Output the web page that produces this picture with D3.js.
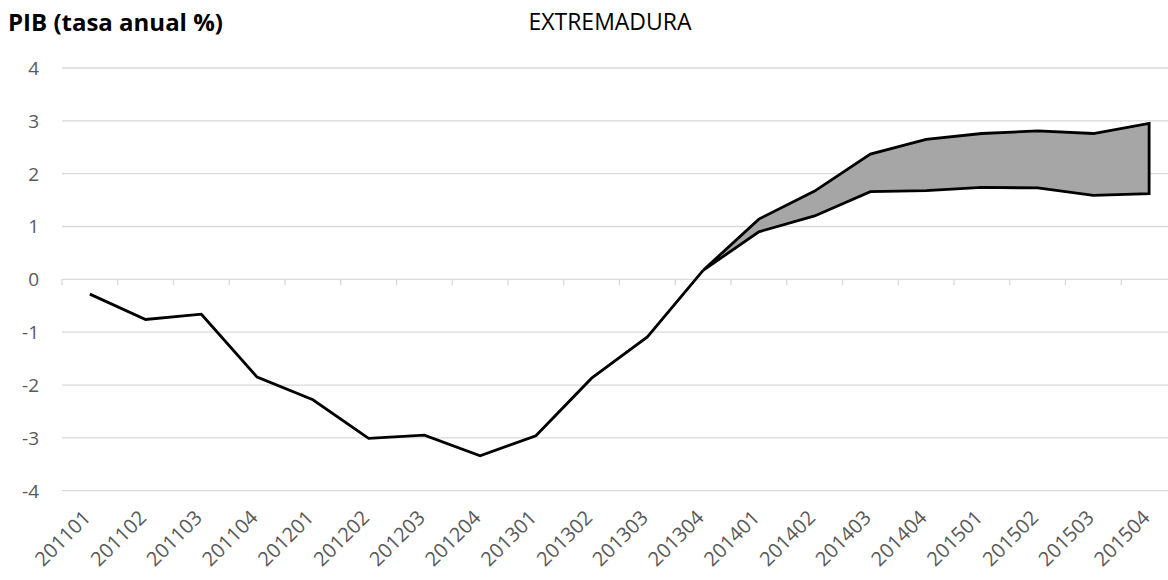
<!DOCTYPE html>
<html>
<head>
<meta charset="utf-8">
<script src="https://cdn.jsdelivr.net/npm/d3@7"></script>
<style>
  body { margin: 0; background: #fff; }
  svg { display: block; font-family: "Open Sans", Lato, sans-serif; }
</style>
</head>
<body>
<svg id="chart" width="1168" height="580"></svg>
<script>
// quarters on the x axis
const quarters = ["201101","201102","201103","201104","201201","201202","201203","201204",
                  "201301","201302","201303","201304","201401","201402","201403","201404",
                  "201501","201502","201503","201504"];
// observed series, 201101..201304
const pibHist = [-0.28, -0.76, -0.66, -1.85, -2.28, -3.01, -2.95, -3.34, -2.96, -1.87, -1.09, 0.17];
// forecast band, 201304..201504
const bandQuarters = quarters.slice(11);
const pibUpper = [0.17, 1.14, 1.67, 2.37, 2.65, 2.76, 2.81, 2.76, 2.95];
const pibLower = [0.17, 0.90, 1.20, 1.66, 1.68, 1.74, 1.73, 1.59, 1.62];
const yTicks = [-4, -3, -2, -1, 0, 1, 2, 3, 4];

const svg = d3.select("#chart");
const plot = { left: 62, right: 1177, top: 68, bottom: 490.7 };

const x = d3.scaleBand().domain(quarters).range([plot.left, plot.right]);
const cx = d => x(d) + x.bandwidth() / 2;
const y = d3.scaleLinear().domain([-4, 4]).range([plot.bottom, plot.top]);

// gridlines
svg.append("g")
    .selectAll("line")
    .data(yTicks)
    .enter().append("line")
    .attr("x1", plot.left).attr("x2", plot.right)
    .attr("y1", d => y(d)).attr("y2", d => y(d))
    .style("stroke", "#d9d9d9")
    .style("stroke-width", 1.3);

// y labels
svg.append("g")
    .selectAll("text")
    .data(yTicks)
    .enter().append("text")
    .attr("x", 39)
    .attr("y", d => y(d))
    .attr("dy", "0.36em")
    .attr("text-anchor", "end")
    .style("font-size", "19px")
    .style("fill", "#595959")
    .text(d => d);

// category tick marks on the zero line
svg.append("g")
    .selectAll("line")
    .data(quarters)
    .enter().append("line")
    .attr("x1", d => x(d)).attr("x2", d => x(d))
    .attr("y1", y(0)).attr("y2", y(0) + 6)
    .style("stroke", "#d9d9d9")
    .style("stroke-width", 1.3);

// x labels
svg.append("g")
    .selectAll("text")
    .data(quarters)
    .enter().append("text")
    .attr("transform", d => "translate(" + (cx(d) + 2) + ",519) rotate(-45)")
    .attr("text-anchor", "end")
    .style("font-size", "20px")
    .style("fill", "#595959")
    .text(d => d);

// forecast band
const band = bandQuarters.map((q, i) => ({ q: q, lo: pibLower[i], hi: pibUpper[i] }));
const area = d3.area()
    .x(d => cx(d.q))
    .y0(d => y(d.lo))
    .y1(d => y(d.hi));
svg.append("path")
    .datum(band)
    .attr("d", d => area(d) + "Z")
    .style("fill", "#a6a6a6")
    .style("stroke", "#000")
    .style("stroke-width", 2.8)
    .style("stroke-linejoin", "miter");

// observed line
const line = d3.line()
    .x((d, i) => cx(quarters[i]))
    .y(d => y(d));
svg.append("path")
    .datum(pibHist)
    .attr("d", line)
    .style("fill", "none")
    .style("stroke", "#000")
    .style("stroke-width", 2.8);

// titles
svg.append("text")
    .attr("x", 8).attr("y", 31)
    .style("font-size", "24px")
    .style("font-weight", "bold")
    .style("fill", "#000")
    .text("PIB (tasa anual %)");

svg.append("text")
    .attr("x", 610).attr("y", 30)
    .attr("text-anchor", "middle")
    .style("font-size", "23px")
    .style("fill", "#000")
    .text("EXTREMADURA");
</script>
</body>
</html>
